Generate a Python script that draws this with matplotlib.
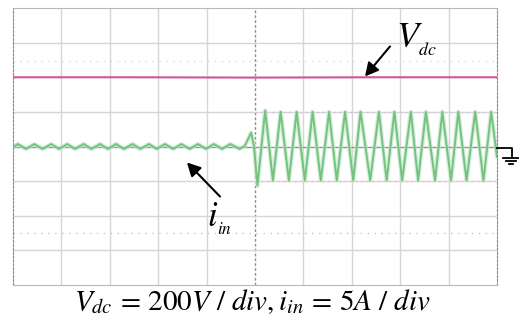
"""
示波器波形图：直流母线电压 Vdc 与输入电流 iin 的阶跃响应。
"""

import matplotlib
matplotlib.use("Agg")
import matplotlib.pyplot as plt
from matplotlib.lines import Line2D


# 屏幕 10 x 8 格，数据单位均为"格"
横格数 = 10
纵格数 = 8

# Vdc 通道（200V/div），基本保持在 +2 格
vdc_t = [0.0, 2.5, 5.0, 7.5, 10.0]
vdc_v = [2.0, 2.0, 1.99, 2.0, 2.0]

# iin 通道（5A/div），读取的峰/谷点
iin_t = [0.00, 0.10, 0.27, 0.44, 0.61, 0.79, 0.95, 1.12, 1.28, 1.46,
         1.62, 1.80, 1.96, 2.13, 2.29, 2.47, 2.63, 2.81, 2.97, 3.14,
         3.31, 3.48, 3.65, 3.82, 3.99, 4.15, 4.32, 4.49, 4.68, 4.79,
         4.92, 4.98, 5.05, 5.21, 5.37, 5.53, 5.70, 5.86, 6.03, 6.19,
         6.36, 6.53, 6.69, 6.86, 7.03, 7.18, 7.38, 7.56, 7.72, 7.88,
         8.04, 8.22, 8.37, 8.53, 8.72, 8.87, 9.05, 9.20, 9.37, 9.55,
         9.72, 9.88, 10.0]
iin_v = [-0.03, 0.07, -0.07, 0.07, -0.07, 0.07, -0.07, 0.07, -0.07, 0.07,
         -0.07, 0.07, -0.07, 0.07, -0.07, 0.07, -0.07, 0.07, -0.07, 0.07,
         -0.07, 0.07, -0.07, 0.07, -0.07, 0.07, -0.07, 0.07, -0.07, 0.02,
         0.40, 0.0, -1.13, 1.04, -0.98, 1.00, -0.98, 1.00, -0.98, 1.00,
         -0.98, 1.00, -0.98, 1.00, -0.98, 1.00, -0.98, 1.00, -0.98, 1.00,
         -0.98, 1.00, -0.98, 1.00, -0.98, 1.00, -0.98, 1.00, -0.98, 1.00,
         -0.98, 1.00, -0.30]

# 光标虚线位置
光标电平 = [2.46, -2.49]
光标颜色 = ["#e6dcae", "#c8c8c8"]
电流光标 = [1.0, -1.0]

标题文字 = r"$V_{dc}\,=\,200V\ /\ div, i_{in}\,=\,5A\ /\ div$"

宽, 高 = 519, 329


def px_to_div(x, y):
    """图像像素坐标换算成屏幕格坐标。"""
    return (x - 13) / 48.4, (147 - y) / 34.6


plt.rcParams["mathtext.fontset"] = "stix"
plt.rcParams["font.family"] = ["Liberation Serif", "DejaVu Serif"]

fig = plt.figure(figsize=(宽 / 100, 高 / 100), dpi=100)
ax = fig.add_axes([13 / 宽, (高 - 285) / 高, 484 / 宽, 277 / 高])
ax.set_xlim(0, 横格数)
ax.set_ylim(-纵格数 / 2, 纵格数 / 2)
ax.set_xticks([])
ax.set_yticks([])

# 网格
for i in range(1, 横格数):
    if i == 横格数 // 2:
        ax.axvline(i, color="#8f8f8f", lw=1.0, ls=(0, (2, 1.5)), zorder=1)
    else:
        ax.axvline(i, color="#d6d6d6", lw=1.0, zorder=1)
for j in range(-纵格数 // 2 + 1, 纵格数 // 2):
    if j == 0:
        ax.axhline(j, color="#8f8f8f", lw=1.0, zorder=1)
    else:
        ax.axhline(j, color="#d6d6d6", lw=1.0, zorder=1)

for 电平, 颜色 in zip(光标电平, 光标颜色):
    ax.axhline(电平, color=颜色, lw=1.0, ls=(0, (1, 4)), zorder=1)
for 电平 in 电流光标:
    ax.plot([4.9, 10], [电平, 电平], color="#e2b8d2", lw=1.0, ls=(0, (1, 3)), zorder=1)

for 边 in ["top", "bottom"]:
    ax.spines[边].set_color("#b8b8b8")
for 边 in ["left", "right"]:
    ax.spines[边].set_color("#8a8a8a")
    ax.spines[边].set_linestyle((0, (2, 1.5)))

# 波形（外层浅色模拟示波器余辉）
ax.plot(iin_t, iin_v, color="#c4e8c8", lw=3.2, alpha=0.7, zorder=2,
        solid_joinstyle="round")
ax.plot(iin_t, iin_v, color="#74c281", lw=1.4, zorder=3, solid_joinstyle="round")
ax.plot(vdc_t, vdc_v, color="#d2579d", lw=1.5, zorder=3)

# 标注箭头
箭头 = dict(arrowstyle="-|>,head_length=0.8,head_width=0.42", color="black",
          lw=1.5, shrinkA=0, shrinkB=0)
ax.annotate("", xy=px_to_div(365, 77), xytext=px_to_div(390, 47),
            arrowprops=箭头, annotation_clip=False)
ax.annotate("", xy=px_to_div(187, 163), xytext=px_to_div(220, 197),
            arrowprops=箭头, annotation_clip=False)

# 下标放低一些，接近原图排版
ax.text(*px_to_div(396, 48), r"$V_{_{dc}}$", fontsize=26, ha="left", va="baseline")
ax.text(*px_to_div(207, 227), r"$i_{_{in}}$", fontsize=25, ha="left", va="baseline")

# 接地符号
def 画线(xs, ys, lw=1.3):
    fig.add_artist(Line2D([x / 宽 for x in xs], [1 - y / 高 for y in ys],
                          color="black", lw=lw, transform=fig.transFigure))

画线([497, 512, 512], [148, 148, 158])
画线([503, 519], [158, 158])
画线([506, 516], [161, 161])
画线([509, 513], [164, 164])

fig.text(252 / 宽, 1 - 310 / 高, 标题文字, fontsize=21, ha="center", va="baseline")

fig.savefig("out.png", dpi=100, facecolor="white")
